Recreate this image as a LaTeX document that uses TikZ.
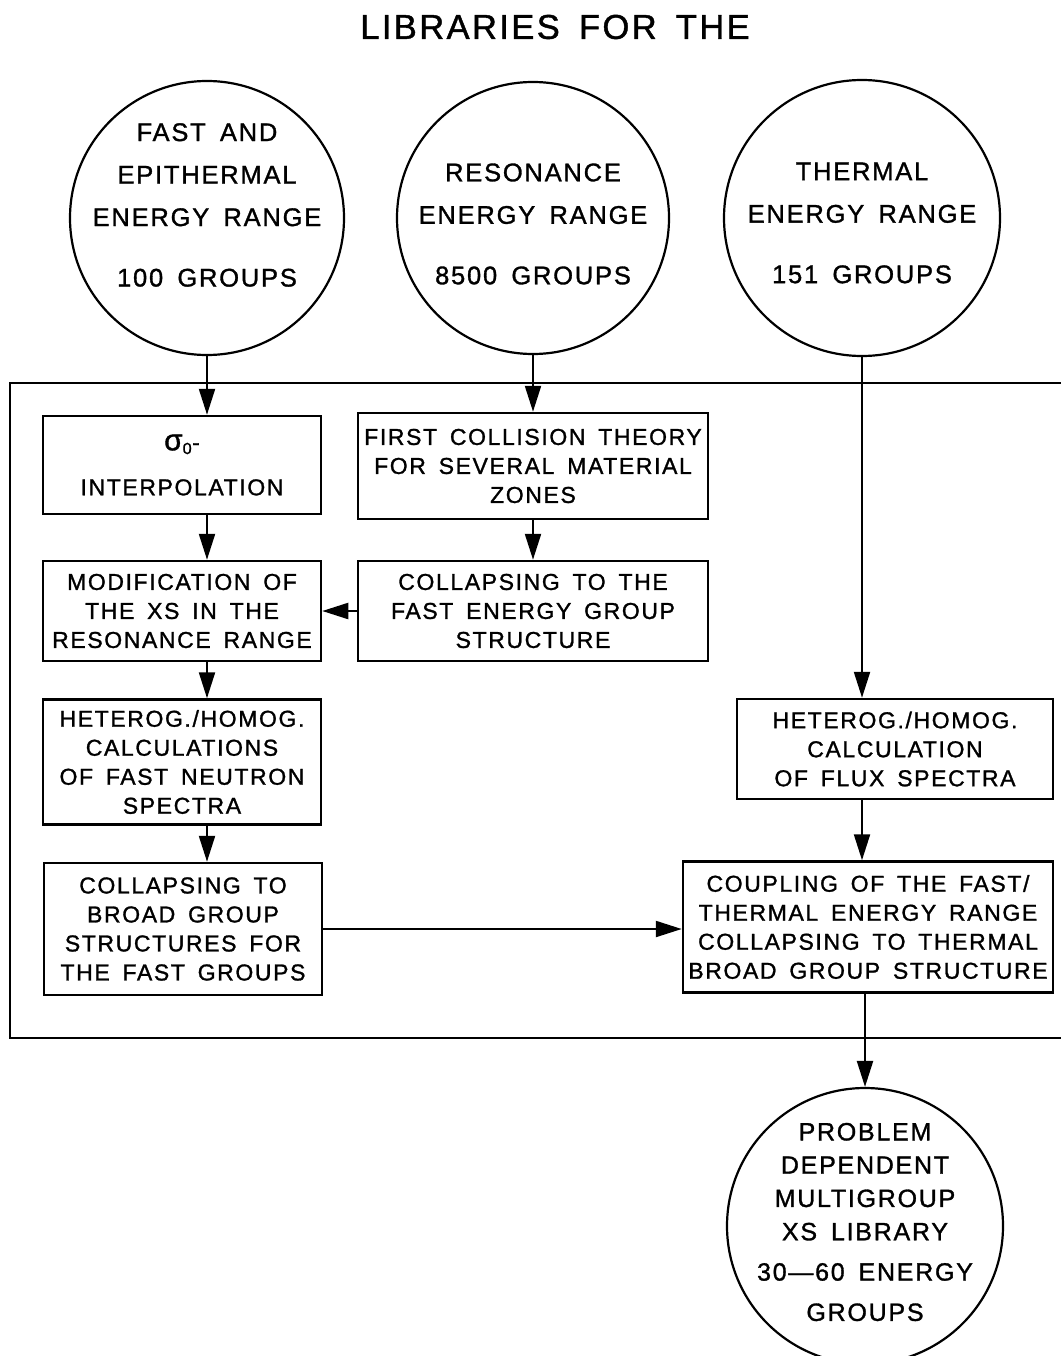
\documentclass[tikz,border=0pt]{standalone}
\usepackage{fontspec}
\setmainfont{Liberation Sans}[LetterSpace=7,WordSpace=1.6,FakeBold=1.2]
\usetikzlibrary{arrows.meta}
\newcommand{\boxfont}{\fontsize{23}{29}\selectfont}
\newcommand{\ringfont}{\fontsize{25.5}{42.5}\selectfont}
\tikzset{
	box/.style={draw, line width=2.5pt, align=center, inner sep=0pt, font=\boxfont},
	ring/.style={draw, circle, line width=2.2pt, inner sep=0pt},
	ringtext/.style={align=center, inner sep=0pt, font=\ringfont},
	flow/.style={line width=2.2pt, -{Triangle[length=26pt,width=16pt]}},
}

\begin{document}
\begin{tikzpicture}[x=1pt, y=-1pt]
			%%%%% START %%%%%
			\useasboundingbox (0, 0) rectangle (1060, 1356);
			
			\node[font=\fontsize{34.5}{40}\selectfont] (title) at (555, 27) {LIBRARIES FOR THE};
			
			% input libraries
			\node[ring, minimum size=274] (fast) at (207, 218) {};
			\node[ringtext] (fasttxt) at (207, 205) {FAST AND\\EPITHERMAL\\ENERGY RANGE\\[18pt]100 GROUPS};
			\node[ring, minimum size=272] (reso) at (533, 218) {};
			\node[ringtext] (resotxt) at (533, 224) {RESONANCE\\ENERGY RANGE\\[18pt]8500 GROUPS};
			\node[ring, minimum size=276] (therm) at (862, 218) {};
			\node[ringtext] (thermtxt) at (862, 223) {THERMAL\\ENERGY RANGE\\[18pt]151 GROUPS};
			
			% processing frame
			\draw[line width=2.5pt] (1080, 383) -- (10, 383) -- (10, 1038) -- (1080, 1038);
			
			\node[box, minimum width=278, minimum height=98] (interp) at (182, 465) {{\fontsize{30}{30}\selectfont σ}\textsubscript{0}-\\[16pt]INTERPOLATION};
			\node[box, minimum width=350, minimum height=106] (fcoll) at (533, 466) {FIRST COLLISION THEORY\\FOR SEVERAL MATERIAL\\ZONES};
			\node[box, minimum width=278, minimum height=100] (modif) at (182, 611) {MODIFICATION OF\\THE XS IN THE\\RESONANCE RANGE};
			\node[box, minimum width=350, minimum height=100] (cfast) at (533, 611) {COLLAPSING TO THE\\FAST ENERGY GROUP\\STRUCTURE};
			\node[box, minimum width=278, minimum height=125] (hfast) at (182, 762) {HETEROG./HOMOG.\\CALCULATIONS\\OF FAST NEUTRON\\SPECTRA};
			\node[box, minimum width=278, minimum height=132] (broad) at (183, 929) {COLLAPSING TO\\BROAD GROUP\\STRUCTURES FOR\\THE FAST GROUPS};
			\node[box, minimum width=316, minimum height=100] (htherm) at (895, 749) {HETEROG./HOMOG.\\CALCULATION\\OF FLUX SPECTRA};
			\node[box, minimum width=370, minimum height=131] (coupl) at (868, 927) {COUPLING OF THE FAST/\\THERMAL ENERGY RANGE\\COLLAPSING TO THERMAL\\BROAD GROUP STRUCTURE};
			
			% result library
			\node[ring, minimum size=276] (probl) at (865, 1226) {};
			\node[ringtext, font=\fontsize{25}{33.3}\selectfont] (probltxt) at (865, 1222) {PROBLEM\\DEPENDENT\\MULTIGROUP\\XS LIBRARY\\[7pt]30---60 ENERGY\\[7pt]GROUPS};
			
			% connectors
			\draw[flow] (fast.south) -- (fast.south |- interp.north);
			\draw[flow] (reso.south) -- (reso.south |- fcoll.north);
			\draw[flow] (therm.south) -- (therm.south |- htherm.north);
			\draw[flow] (interp.south -| fast.south) -- (modif.north -| fast.south);
			\draw[flow] (fcoll.south -| reso.south) -- (cfast.north -| reso.south);
			\draw[flow] (cfast.west) -- (modif.east);
			\draw[flow] (modif.south -| fast.south) -- (hfast.north -| fast.south);
			\draw[flow] (hfast.south -| fast.south) -- (broad.north -| fast.south);
			\draw[flow] (broad.east) -- (broad.east -| coupl.west);
			\draw[flow] (htherm.south -| therm.south) -- (coupl.north -| therm.south);
			\draw[flow] (coupl.south -| probl.north) -- (probl.north);
			
			%%%%% END %%%%%
\end{tikzpicture}
\end{document}
